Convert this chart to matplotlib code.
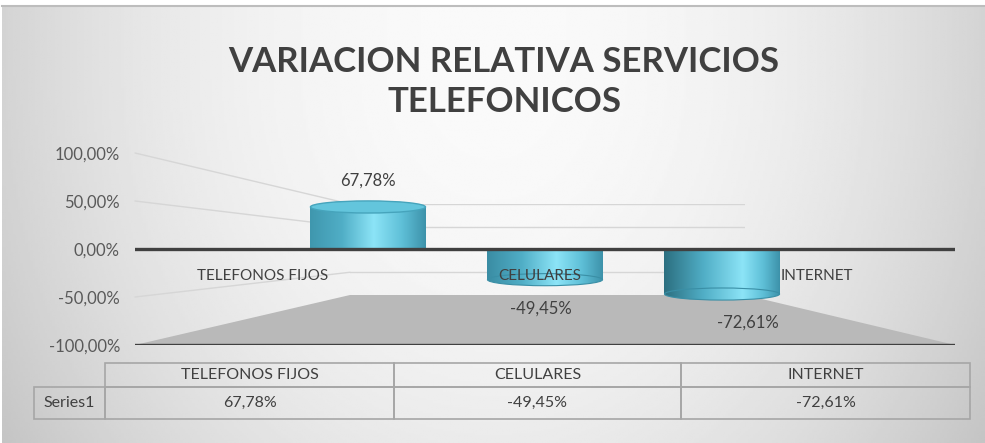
import numpy as np
import matplotlib
matplotlib.use("Agg")
import matplotlib.pyplot as plt
from matplotlib.patches import Ellipse, Polygon, ConnectionPatch
from matplotlib.colors import LinearSegmentedColormap
from matplotlib.lines import Line2D
from matplotlib.table import Table

plt.rcParams['font.family'] = ['Lato', 'DejaVu Sans']

title = "VARIACION RELATIVA SERVICIOS\nTELEFONICOS"
categories = ["TELEFONOS FIJOS", "CELULARES", "INTERNET"]
values = [67.78, -49.45, -72.61]
series_name = "Series1"
yticks = [-100, -50, 0, 50, 100]


def pct(v):
    return f"{v:.2f}%".replace(".", ",")


W, H = 985, 443
fig = plt.figure(figsize=(W / 100, H / 100), dpi=100)


def px_axes(x0, y0, x1, y1, **kw):
    # box in pixels, y measured from the top
    return fig.add_axes([x0 / W, 1 - y1 / H, (x1 - x0) / W, (y1 - y0) / H], **kw)


# background gradient
bg = px_axes(2, 6, W, H, zorder=0)
gx, gy = np.meshgrid(np.linspace(-1, 1, 400), np.linspace(0, 1, 200))
shade = 0.98 - 0.15 * gx ** 2 - 0.06 * np.clip((gy - 0.15) / 0.85, 0, 1) ** 2
bg.imshow(shade, cmap="gray", vmin=0, vmax=1, aspect="auto", extent=[0, 1, 1, 0])
bg.axis("off")
fig.add_artist(Line2D([2 / W, 1], [1 - 6 / H] * 2, color="#bdbdbd", lw=1.5))

# back wall
wx = px_axes(350, 204, 745, 295, zorder=1)
wx.set_xlim(0, 1)
wx.set_ylim(-100, 100)
for v in yticks[1:]:
    wx.axhline(v, color="#d6d6d6", lw=1)
wx.axis("off")

# front plane (tick labels, category labels, axis lines)
ax = px_axes(135, 153, 955, 345, zorder=3)
ax.set_xlim(-0.462, 2.498)
ax.set_ylim(-100, 100)
ax.patch.set_visible(False)
for s in ax.spines.values():
    s.set_visible(False)
ax.set_xticks([])
ax.set_yticks(yticks)
ax.set_yticklabels([pct(v) for v in yticks])
ax.tick_params(axis="y", length=0, pad=10.8, labelsize=12, labelcolor="#595959")
ax.axhline(0, color="#404040", lw=2.4)
ax.axhline(-100, color="#404040", lw=2.4)
for i, c in enumerate(categories):
    ax.annotate(c, (i, 0), xytext=(0, -27), textcoords="offset pixels",
                ha="center", va="center", fontsize=11, color="#404040")

# left wall lines and floor
fig.canvas.draw()
for v in yticks[1:]:
    if v == 0:
        continue
    con = ConnectionPatch(xyA=(ax.get_xlim()[0], v), coordsA=ax.transData,
                          xyB=(0, v), coordsB=wx.transData,
                          color="#d6d6d6", lw=1, zorder=1.5)
    fig.add_artist(con)

inv = fig.transFigure.inverted()
front = ax.transData.transform([(ax.get_xlim()[0], -100), (ax.get_xlim()[1], -100)])
back = wx.transData.transform([(0, -100), (1, -100)])
floor = Polygon(inv.transform([front[0], back[0], back[1], front[1]]),
                closed=True, transform=fig.transFigure,
                facecolor="#b9b9b9", edgecolor="none", zorder=1.2)
fig.add_artist(floor)

# cylinders
bx = px_axes(135, 153, 955, 345, zorder=2)
bx.patch.set_visible(False)
grad = np.linspace(0, 1, 256)[None, :]
bw = 0.65
cap = 19.5
xs = np.arange(len(values))
bars = bx.bar(xs, values, width=bw, color="none", edgecolor="none")
label_dx = [0, -4, 26]
shade_left = ["#3f97ae", "#3a8ca3", "#2c6f80"]
shade_peak = [0.55, 0.6, 0.68]
for b, x, v, dx, sl, pk in zip(bars, xs, values, label_dx, shade_left, shade_peak):
    cyl = LinearSegmentedColormap.from_list(
        "cyl", [(0, sl), (pk * 0.5, "#50aec6"), (pk, "#8ce4f7"),
                (pk + (1 - pk) * 0.55, "#5ebfd7"), (1, "#3d92aa")])
    im = bx.imshow(grad, extent=[x - bw / 2, x + bw / 2, min(0, v), max(0, v)],
                   cmap=cyl, aspect="auto", zorder=2)
    im.set_clip_path(b)
    if v >= 0:
        e = Ellipse((x, v), bw, cap, facecolor="#63c5dc", edgecolor="#46a4bc",
                    lw=1, zorder=3)
        bx.add_patch(e)
    else:
        e = Ellipse((x, v), bw, cap, facecolor="none", edgecolor="#3a8fa6",
                    lw=0.8, zorder=4)
        bx.add_patch(e)
        im2 = bx.imshow(grad, extent=[x - bw / 2, x + bw / 2, v - cap / 2, v + cap / 2],
                        cmap=cyl, aspect="auto", zorder=3)
        im2.set_clip_path(e)
    bx.annotate(pct(v), (x, v), xytext=(dx, 26 if v >= 0 else -29),
                textcoords="offset pixels", ha="center", va="center",
                fontsize=12, color="#404040")
bx.set_xlim(-1.316, 3.316)
bx.set_ylim(-154.8, 154.8)
bx.axis("off")

# data table
tax = px_axes(34, 363, 970, 419, zorder=3)
tax.axis("off")
tbl = Table(tax, bbox=[0, 0, 1, 1])
col_w = [71, 289, 287, 289]
row_h = [24, 32]
rows = [[""] + categories, [series_name] + [pct(v) for v in values]]
for r, row in enumerate(rows):
    for c, txt in enumerate(row):
        cell = tbl.add_cell(r, c, col_w[c], row_h[r], text=txt, loc="center",
                            facecolor="none", edgecolor="#a6a6a6")
        cell.set_linewidth(1.2)
        cell.get_text().set_color("#404040")
tbl[0, 0].visible_edges = ""
tbl.auto_set_font_size(False)
tbl.set_fontsize(11.5)
tax.add_table(tbl)

fig.text(504 / W, 1 - 82 / H, title, ha="center", va="center", fontsize=25,
         fontweight="bold", color="#404040", linespacing=1.3)

fig.savefig("out.png", dpi=100)
